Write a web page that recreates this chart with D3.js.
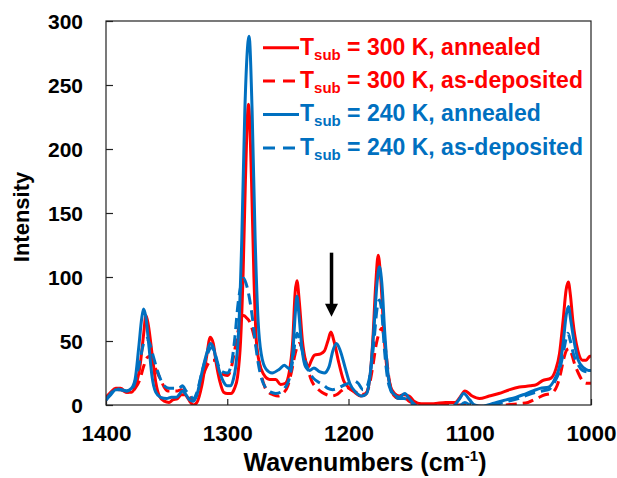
<!DOCTYPE html>
<html lang="en">
<head>
<meta charset="utf-8" />
<title>Raman spectra</title>
<script src="https://cdn.jsdelivr.net/npm/d3@7"></script>
<style>
  body { margin: 0; background: #fff; }
  svg text { font-family: "Liberation Sans", Arial, sans-serif; font-weight: bold; }
  .frame { fill: none; stroke: #222; stroke-width: 1.2px; }
  .tick line { stroke: #222; stroke-width: 1.2px; }
  .spec { fill: none; stroke-width: 3px; stroke-linejoin: round; }
</style>
</head>
<body>
<div id="chart"></div>
<script>
var width = 617, height = 478;
var margin = {top: 21, right: 26, bottom: 73, left: 106};

// [wavenumber, intensity]
var red300Annealed = [
  [1400,6],[1396,10],[1392,13],[1388,13],[1383,10],[1379,10],[1376,14],[1372,30],[1369,55],[1367,70],
  [1365,62],[1362,40],[1359,18],[1356,7],[1352,3],[1348,2],[1345,4],[1341,5],[1338,8],[1335,8],
  [1331,3],[1328,0],[1325,2],[1321,15],[1317,38],[1314,53],[1311.5,48],[1309,32],[1306,18],[1303,10],
  [1300,9],[1297,9],[1294,13],[1291.5,22],[1289,50],[1287,100],[1285,176],[1282.5,235],[1280,176],
  [1278,100],[1276,50],[1273.5,33],[1270,24],[1265,20],[1260,20],[1256,16],[1252,17],[1249,25],
  [1246,50],[1244,88],[1242.5,97],[1240.5,80],[1238,50],[1235.5,35],[1233,30],[1231,34],[1228,39],
  [1223,40],[1220,42],[1217,50],[1214.5,57],[1212,50],[1208,33],[1204,19],[1199,13],[1195,10],
  [1190,7],[1186,8],[1182.5,20],[1180,50],[1177.5,95],[1175.5,117],[1173.5,100],[1171,60],[1168.5,30],
  [1165.5,15],[1162,9],[1158,7],[1155,8],[1150,7],[1146,3],[1140,1],[1130,1],[1120,2],[1112,2],
  [1108,6],[1104,11],[1098,7],[1092,5],[1084,7],[1076,9],[1067,12],[1059,14],[1050,15],[1045,16],
  [1040,19],[1033,21],[1029,28],[1026,40],[1023,66],[1020.5,90],[1018.7,96],[1017,86],[1015,66],
  [1011,43],[1007,35],[1004,35],[1001,38],[1000,38]
];
var red300AsDep = [
  [1400,4],[1396,9],[1392,12],[1388,12],[1383,10],[1379,10],[1376,13],[1372,20],[1369,30],[1366,37],
  [1364,38],[1361,32],[1358,26],[1355,20],[1352,14],[1349,11],[1345,11],[1341,11],[1338,12],[1335,10],
  [1331,6],[1328,4],[1325,8],[1321,20],[1317,30],[1313,35],[1310,35],[1307,28],[1304,24],[1300,23],
  [1297,28],[1294,42],[1291,58],[1288.5,68],[1286.5,70],[1284,68],[1281.5,65],[1279,58],[1276.5,48],
  [1274,35],[1271.5,22],[1269,14],[1266,10],[1262,8],[1258,7],[1254,9],[1250,15],[1247,26],[1244,40],
  [1241,48],[1239,46],[1236,36],[1233,26],[1230,18],[1226,13],[1222,10],[1218,8],[1214,7],[1210,8],
  [1206,11],[1202,14],[1198,12],[1194,10],[1190,8],[1186,9],[1183,15],[1180,30],[1177,48],[1174.5,57],
  [1172.5,60],[1171,55],[1169,40],[1166.5,20],[1164,10],[1161,6],[1157,5],[1153,5],[1150,3],[1146,1],
  [1140,-1],[1130,-1],[1120,0],[1110,0],[1100,0],[1090,-1],[1080,-1],[1070,0],[1060,1],[1052,2],
  [1045,5],[1038,8],[1033,9],[1028,15],[1025,25],[1022.5,36],[1020,43],[1018,44],[1016,40],
  [1013.5,32],[1010.5,25],[1007,19],[1004,17],[1000,17]
];
var blue240Annealed = [
  [1400,4],[1396,8],[1392,12],[1388,12],[1383,11],[1379,13],[1376,20],[1373,45],[1370.5,68],[1369,75],
  [1367,68],[1364.5,45],[1362,22],[1359,10],[1355,6],[1350,5],[1346,6],[1342,6],[1339,9],[1337,11],
  [1334,8],[1331,4],[1328,3],[1325,8],[1321,25],[1317,40],[1314,48],[1311.5,45],[1309,35],[1306,25],
  [1303,18],[1300,15],[1297,15],[1295,20],[1293,30],[1290.5,60],[1288,130],[1285.5,230],[1282,288],
  [1279.5,230],[1277,130],[1274.5,65],[1272,40],[1268,28],[1263,25],[1257,28],[1253,31],[1250,29],
  [1248,28],[1246,40],[1244,70],[1242.5,85],[1241,72],[1238.5,45],[1235.5,30],[1232,27],[1228.5,29],
  [1224,26],[1220,25],[1216,30],[1213,42],[1210,48],[1207,43],[1203,30],[1199,17],[1194,10],
  [1189,7],[1185,9],[1182,25],[1179,60],[1176.5,95],[1174.5,108],[1172.5,95],[1170,55],[1167.5,25],
  [1165,12],[1162,8],[1158,6],[1153.5,9],[1150,5],[1145,0],[1140,-3],[1125,-3],[1115,-2],[1109,4],
  [1105,9],[1100,4],[1096,0],[1090,-1],[1085,0],[1078,2],[1070,4],[1062,6],[1056,8],[1048,11],
  [1042,13],[1035,14],[1030,20],[1026,30],[1023,48],[1020.5,70],[1018.7,77],[1016.5,65],[1014,50],
  [1010.5,35],[1006,29],[1002,27],[1000,27]
];
var blue240AsDep = [
  [1400,4],[1396,9],[1392,13],[1388,12],[1383,11],[1379,12],[1376,18],[1372,35],[1369,48],[1366.5,52],
  [1364,48],[1361,38],[1358,28],[1355,20],[1352,15],[1348,13],[1344,13],[1340,13],[1337,15],[1334,11],
  [1331,8],[1328,5],[1325,10],[1321,25],[1317,38],[1313,45],[1310,40],[1307,30],[1304,26],[1300,25],
  [1297,30],[1294,50],[1291,80],[1288,96],[1286.5,99],[1284.5,95],[1282,85],[1279.5,70],[1277,50],
  [1274.5,33],[1271.5,20],[1268,13],[1264,10],[1260,9],[1256,10],[1252,14],[1249,20],[1246,35],
  [1244,50],[1242.5,56],[1240.5,52],[1238,42],[1235,32],[1232,25],[1229,21],[1225,18],[1221,16],
  [1217,13],[1213,12],[1209,13],[1205,15],[1200,17],[1196,19],[1192,17],[1188,12],[1185,14],[1182,25],
  [1179,50],[1176.5,75],[1174.5,82],[1172.5,72],[1170.5,45],[1168,22],[1165,11],[1162,7],[1158,5],
  [1154,5],[1150,3],[1146,0],[1140,-2],[1130,-3],[1120,-3],[1110,-2],[1104,2],[1100,0],[1092,-2],
  [1084,-1],[1076,1],[1068,3],[1060,5],[1052,8],[1045,10],[1040,11],[1035,12],[1030,18],[1026,27],
  [1023,40],[1020.5,52],[1019,56],[1017,50],[1014.5,40],[1011,32],[1007,27],[1003,26],[1000,26]
];

var seriesNames = ["300 K, annealed", "300 K, as-deposited", "240 K, annealed", "240 K, as-deposited"];
var seriesColors = ["#ff0000", "#ff0000", "#0070c0", "#0070c0"];
var seriesDashed = [false, true, false, true];
var seriesData = [red300Annealed, red300AsDep, blue240Annealed, blue240AsDep];

var xTicks = [1400, 1300, 1200, 1100, 1000];
var yTicks = [0, 50, 100, 150, 200, 250, 300];
var arrowAt = [1214, 119, 69]; // wavenumber, tail intensity, tip intensity

var svg = d3.select("#chart").append("svg")
    .attr("width", width)
    .attr("height", height);

var x = d3.scaleLinear().domain([1400, 1000]).range([margin.left, width - margin.right]);
var y = d3.scaleLinear().domain([0, 300]).range([height - margin.bottom, margin.top]);

svg.append("clipPath").attr("id", "plotclip")
  .append("rect")
    .attr("x", x(1400)).attr("y", y(300))
    .attr("width", x(1000) - x(1400)).attr("height", y(0) - y(300));

// axes, ticks inside
var xAxis = svg.append("g")
    .attr("transform", "translate(0," + y(0) + ")")
    .call(d3.axisBottom(x).tickValues(xTicks).tickSize(-6).tickPadding(20).tickFormat(d3.format("d")));
xAxis.select(".domain").remove();
xAxis.selectAll("text").attr("font-size", 22.5).attr("fill", "#000");

var yAxis = svg.append("g")
    .attr("transform", "translate(" + x(1400) + ",0)")
    .call(d3.axisLeft(y).tickValues(yTicks).tickSize(-7).tickPadding(23));
yAxis.select(".domain").remove();
yAxis.selectAll("text").attr("font-size", 21).attr("fill", "#000").attr("dy", "0.38em");

var line = d3.line()
    .x(function(d) { return x(d[0]); })
    .y(function(d) { return y(d[1]); })
    .curve(d3.curveMonotoneX);

var plot = svg.append("g").attr("clip-path", "url(#plotclip)");
seriesData.forEach(function(data, i) {
  plot.append("path")
    .datum(data)
    .attr("class", "spec")
    .attr("stroke", seriesColors[i])
    .attr("stroke-dasharray", seriesDashed[i] ? "11,6" : null)
    .attr("d", line);
});

svg.append("rect")
    .attr("class", "frame")
    .attr("x", x(1400)).attr("y", y(300))
    .attr("width", x(1000) - x(1400)).attr("height", y(0) - y(300));

// arrow
var ax = x(arrowAt[0]), tipY = y(arrowAt[2]);
svg.append("line")
    .attr("x1", ax).attr("x2", ax)
    .attr("y1", y(arrowAt[1])).attr("y2", tipY - 10)
    .attr("stroke", "#000").attr("stroke-width", 3.5);
svg.append("path")
    .attr("d", "M" + (ax - 6.5) + "," + (tipY - 13) + "L" + (ax + 6.5) + "," + (tipY - 13) + "L" + ax + "," + tipY + "Z")
    .attr("fill", "#000");

// legend
var legend = svg.append("g");
seriesNames.forEach(function(name, i) {
  var ly = 47.7 + i * 33.4;
  legend.append("line")
    .attr("x1", 263).attr("x2", 299)
    .attr("y1", ly).attr("y2", ly)
    .attr("stroke", seriesColors[i])
    .attr("stroke-width", 3)
    .attr("stroke-dasharray", seriesDashed[i] ? "12,8" : null);
  var t = legend.append("text")
    .attr("x", 300).attr("y", ly + 6.9)
    .attr("font-size", 23)
    .attr("fill", seriesColors[i]);
  t.append("tspan").text("T");
  t.append("tspan").attr("font-size", 15).attr("dy", 5).text("sub");
  t.append("tspan").attr("dy", -5).text(" = " + name);
});

// axis titles
svg.append("text")
    .attr("transform", "translate(29," + ((y(0) + y(300)) / 2 + 4) + ") rotate(-90)")
    .attr("text-anchor", "middle")
    .attr("font-size", 22)
    .text("Intensity");

var xt = svg.append("text")
    .attr("x", 365).attr("y", 471)
    .attr("text-anchor", "middle")
    .attr("font-size", 25);
xt.append("tspan").text("Wavenumbers (cm");
xt.append("tspan").attr("font-size", 15).attr("dy", -10).text("-1");
xt.append("tspan").attr("dy", 10).text(")");
</script>
</body>
</html>
